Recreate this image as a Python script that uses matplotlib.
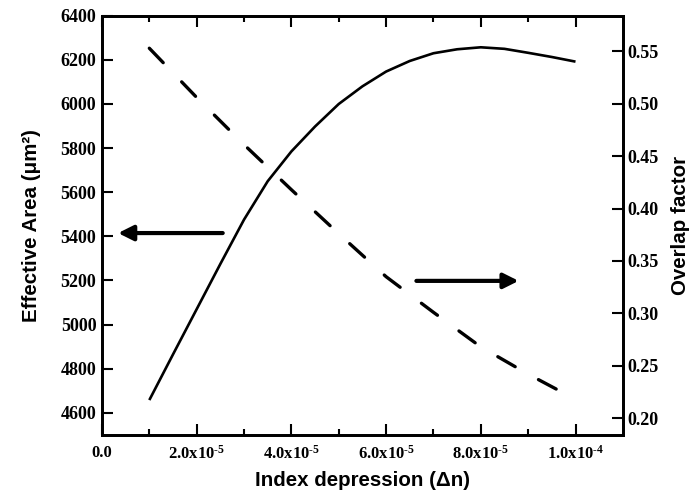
import matplotlib
matplotlib.use("Agg")
import matplotlib.pyplot as plt
import numpy as np

# values
delta_n = np.array([1.0, 1.5, 2.0, 2.5, 3.0, 3.5, 4.0, 4.5, 5.0, 5.5,
                    6.0, 6.5, 7.0, 7.5, 8.0, 8.5, 9.0, 9.5, 10.0]) * 1e-5
eff_area = [4658, 4865, 5070, 5275, 5476, 5650, 5785, 5898, 6000, 6080,
            6147, 6195, 6230, 6248, 6257, 6250, 6232, 6213, 6192]
dn_overlap = np.array([1, 2, 3, 4, 5, 6, 7, 8, 9, 10]) * 1e-5
overlap = [0.553, 0.506, 0.461, 0.418, 0.376, 0.335, 0.301, 0.268, 0.242, 0.218]

x_ticks = np.array([0, 2, 4, 6, 8, 10]) * 1e-5
x_minor = np.array([1, 3, 5, 7, 9]) * 1e-5
x_labels = ["0.0", r"$\mathregular{2.0x10^{\text{-}5}}$", r"$\mathregular{4.0x10^{\text{-}5}}$",
            r"$\mathregular{6.0x10^{\text{-}5}}$", r"$\mathregular{8.0x10^{\text{-}5}}$",
            r"$\mathregular{1.0x10^{\text{-}4}}$"]
left_ticks = [4600, 4800, 5000, 5200, 5400, 5600, 5800, 6000, 6200, 6400]
right_ticks = [0.20, 0.25, 0.30, 0.35, 0.40, 0.45, 0.50, 0.55]

plt.rcParams['mathtext.fontset'] = 'custom'
plt.rcParams['mathtext.rm'] = 'Liberation Serif:bold'
plt.rcParams['mathtext.it'] = 'Liberation Serif:bold'
plt.rcParams['mathtext.bf'] = 'Liberation Serif:bold'

fig = plt.figure(figsize=(6.89, 4.92), dpi=100)
ax = fig.add_axes([0.148, 0.116, 0.756, 0.852])
ax2 = ax.twinx()

ax.plot(delta_n, eff_area, color='black', lw=1.9, solid_capstyle='butt')
ax2.plot(dn_overlap, overlap, color='black', lw=2.4, dashes=(6.0, 8.0),
         dash_capstyle='round')

ax.set_xlim(0, 1.1e-4)
ax.set_ylim(4500, 6400)
ax2.set_ylim(0.184, 0.584)

ax.set_xticks(x_ticks)
ax.set_xticklabels(x_labels)
ax.set_xticks(x_minor, minor=True)
ax.set_yticks(left_ticks)
ax2.set_yticks(right_ticks)
ax2.set_yticklabels(["%.2f" % v for v in right_ticks])

tick_font = {'family': 'Liberation Serif', 'weight': 'bold', 'size': 13}
for lab in ax.get_yticklabels() + ax2.get_yticklabels() + ax.get_xticklabels():
    lab.set_fontproperties(tick_font)
for lab in ax.get_xticklabels():
    lab.set_fontsize(12)

ax.tick_params(axis='x', which='major', direction='in', length=8, width=1.5,
               top=True, pad=7)
ax.tick_params(axis='x', which='minor', direction='in', length=4.5, width=1.5,
               top=True)
ax.tick_params(axis='y', direction='in', length=8, width=1.5, pad=4)
ax2.tick_params(axis='y', direction='in', length=8, width=1.5, pad=3)

for a in (ax, ax2):
    for s in a.spines.values():
        s.set_linewidth(2)

label_font = dict(family='Liberation Sans', weight='bold', size=14.8)
ax.set_xlabel("Index depression (Δn)", labelpad=6, **label_font)
ax.set_ylabel("Effective Area (μm²)", labelpad=14, **label_font)
ax2.set_ylabel("Overlap factor", labelpad=9, **label_font)

# arrows pointing to the matching axis
arrow_style = dict(arrowstyle='-|>,head_length=0.9,head_width=0.45',
                   color='black', lw=3.0, shrinkA=0, shrinkB=0)
ax.annotate("", xy=(0.34e-5, 5415), xytext=(2.55e-5, 5415), arrowprops=arrow_style)
ax2.annotate("", xy=(8.8e-5, 0.331), xytext=(6.64e-5, 0.331), arrowprops=arrow_style)

fig.savefig("out.png", dpi=100)
